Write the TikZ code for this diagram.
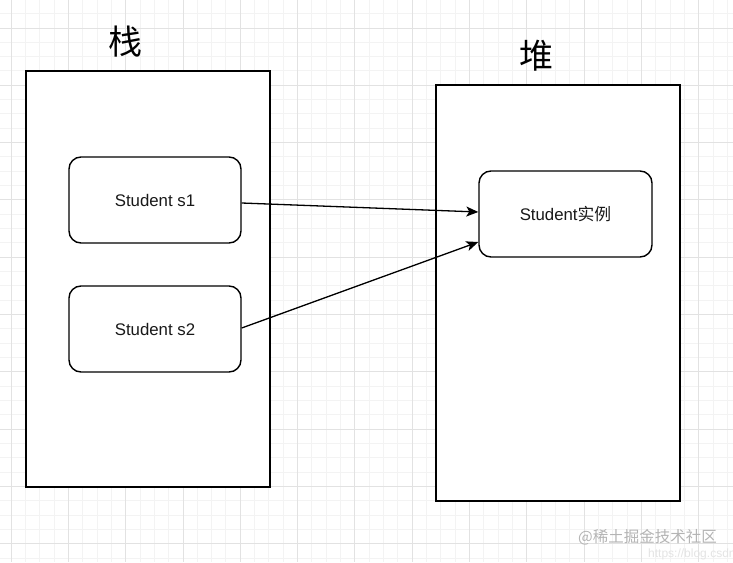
\documentclass[tikz,border=0pt]{standalone}
\usepackage{fontspec}
\setmainfont{Liberation Sans}
\newfontfamily\cjk{Noto Sans CJK SC}
\usetikzlibrary{arrows.meta}
\definecolor{gridminor}{HTML}{F3F3F3}
\definecolor{gridmajor}{HTML}{E2E2E2}
\definecolor{wmark}{HTML}{B4B4B4}
\definecolor{wurl}{HTML}{E4E4E4}
\tikzset{
  frame/.style={draw=black, line width=1.4pt, fill=white, inner sep=0pt},
  objbox/.style={draw=black, line width=1.4pt, fill=white, rounded corners=12pt,
    minimum width=172pt, minimum height=86pt, inner sep=0pt,
    font=\fontsize{16.8}{18}\selectfont, text=black!90},
  title/.style={font=\cjk\fontsize{34}{36}\selectfont, text=black},
  ref/.style={line width=1.3pt, -{Stealth[length=12pt, width=10pt, inset=3pt]}},
}
\begin{document}
\begin{tikzpicture}[x=1pt, y=-1pt]
\useasboundingbox (0,0) rectangle (733,562);
\clip (0,0) rectangle (733,562);
\fill[white] (0,0) rectangle (733,562);
% background grid: fine lines, with a stronger line every fourth step
\foreach \i in {-1,...,52} {
  \draw[gridminor, line width=1pt] ({11.1+14.325*\i},0) -- ++(0,562);
}
\foreach \i in {-2,...,38} {
  \draw[gridminor, line width=1pt] (0,{28+14.325*\i}) -- ++(733,0);
}
\foreach \i in {0,...,13} {
  \draw[gridmajor, line width=1pt] ({11.1+57.3*\i},0) -- ++(0,562);
}
\foreach \i in {0,...,10} {
  \draw[gridmajor, line width=1pt] (0,{28+57.3*\i}) -- ++(733,0);
}

% stack and heap areas
\node[frame, minimum width=244pt, minimum height=416pt] (stack) at (148,279) {};
\node[frame, minimum width=244pt, minimum height=416pt] (heap) at (558,293) {};
\node[title] (stacklabel) at (125,42) {栈};
\node[title] (heaplabel) at (536,56) {堆};

% references and the object they point to
\node[objbox] (s1) at (155,200) {Student s1};
\node[objbox] (s2) at (155,329) {Student s2};
\node[objbox, minimum width=173pt] (inst) at (565.5,214) {Student{\cjk 实例}};

\draw[ref] ([yshift=-3pt]s1.east) -- ([yshift=2pt]inst.west);
\draw[ref] ([yshift=1pt]s2.east) -- ([yshift=-28pt]inst.west);

% watermark
\node[font=\cjk\fontsize{15.5}{18}\selectfont, text=wmark, anchor=west, inner sep=0pt] (wm) at (578,537) {@稀土掘金技术社区};
\node[font=\fontsize{12}{14}\selectfont, text=wurl, anchor=west, inner sep=0pt] (url) at (648,554) {https://blog.csdn};
\end{tikzpicture}
\end{document}
